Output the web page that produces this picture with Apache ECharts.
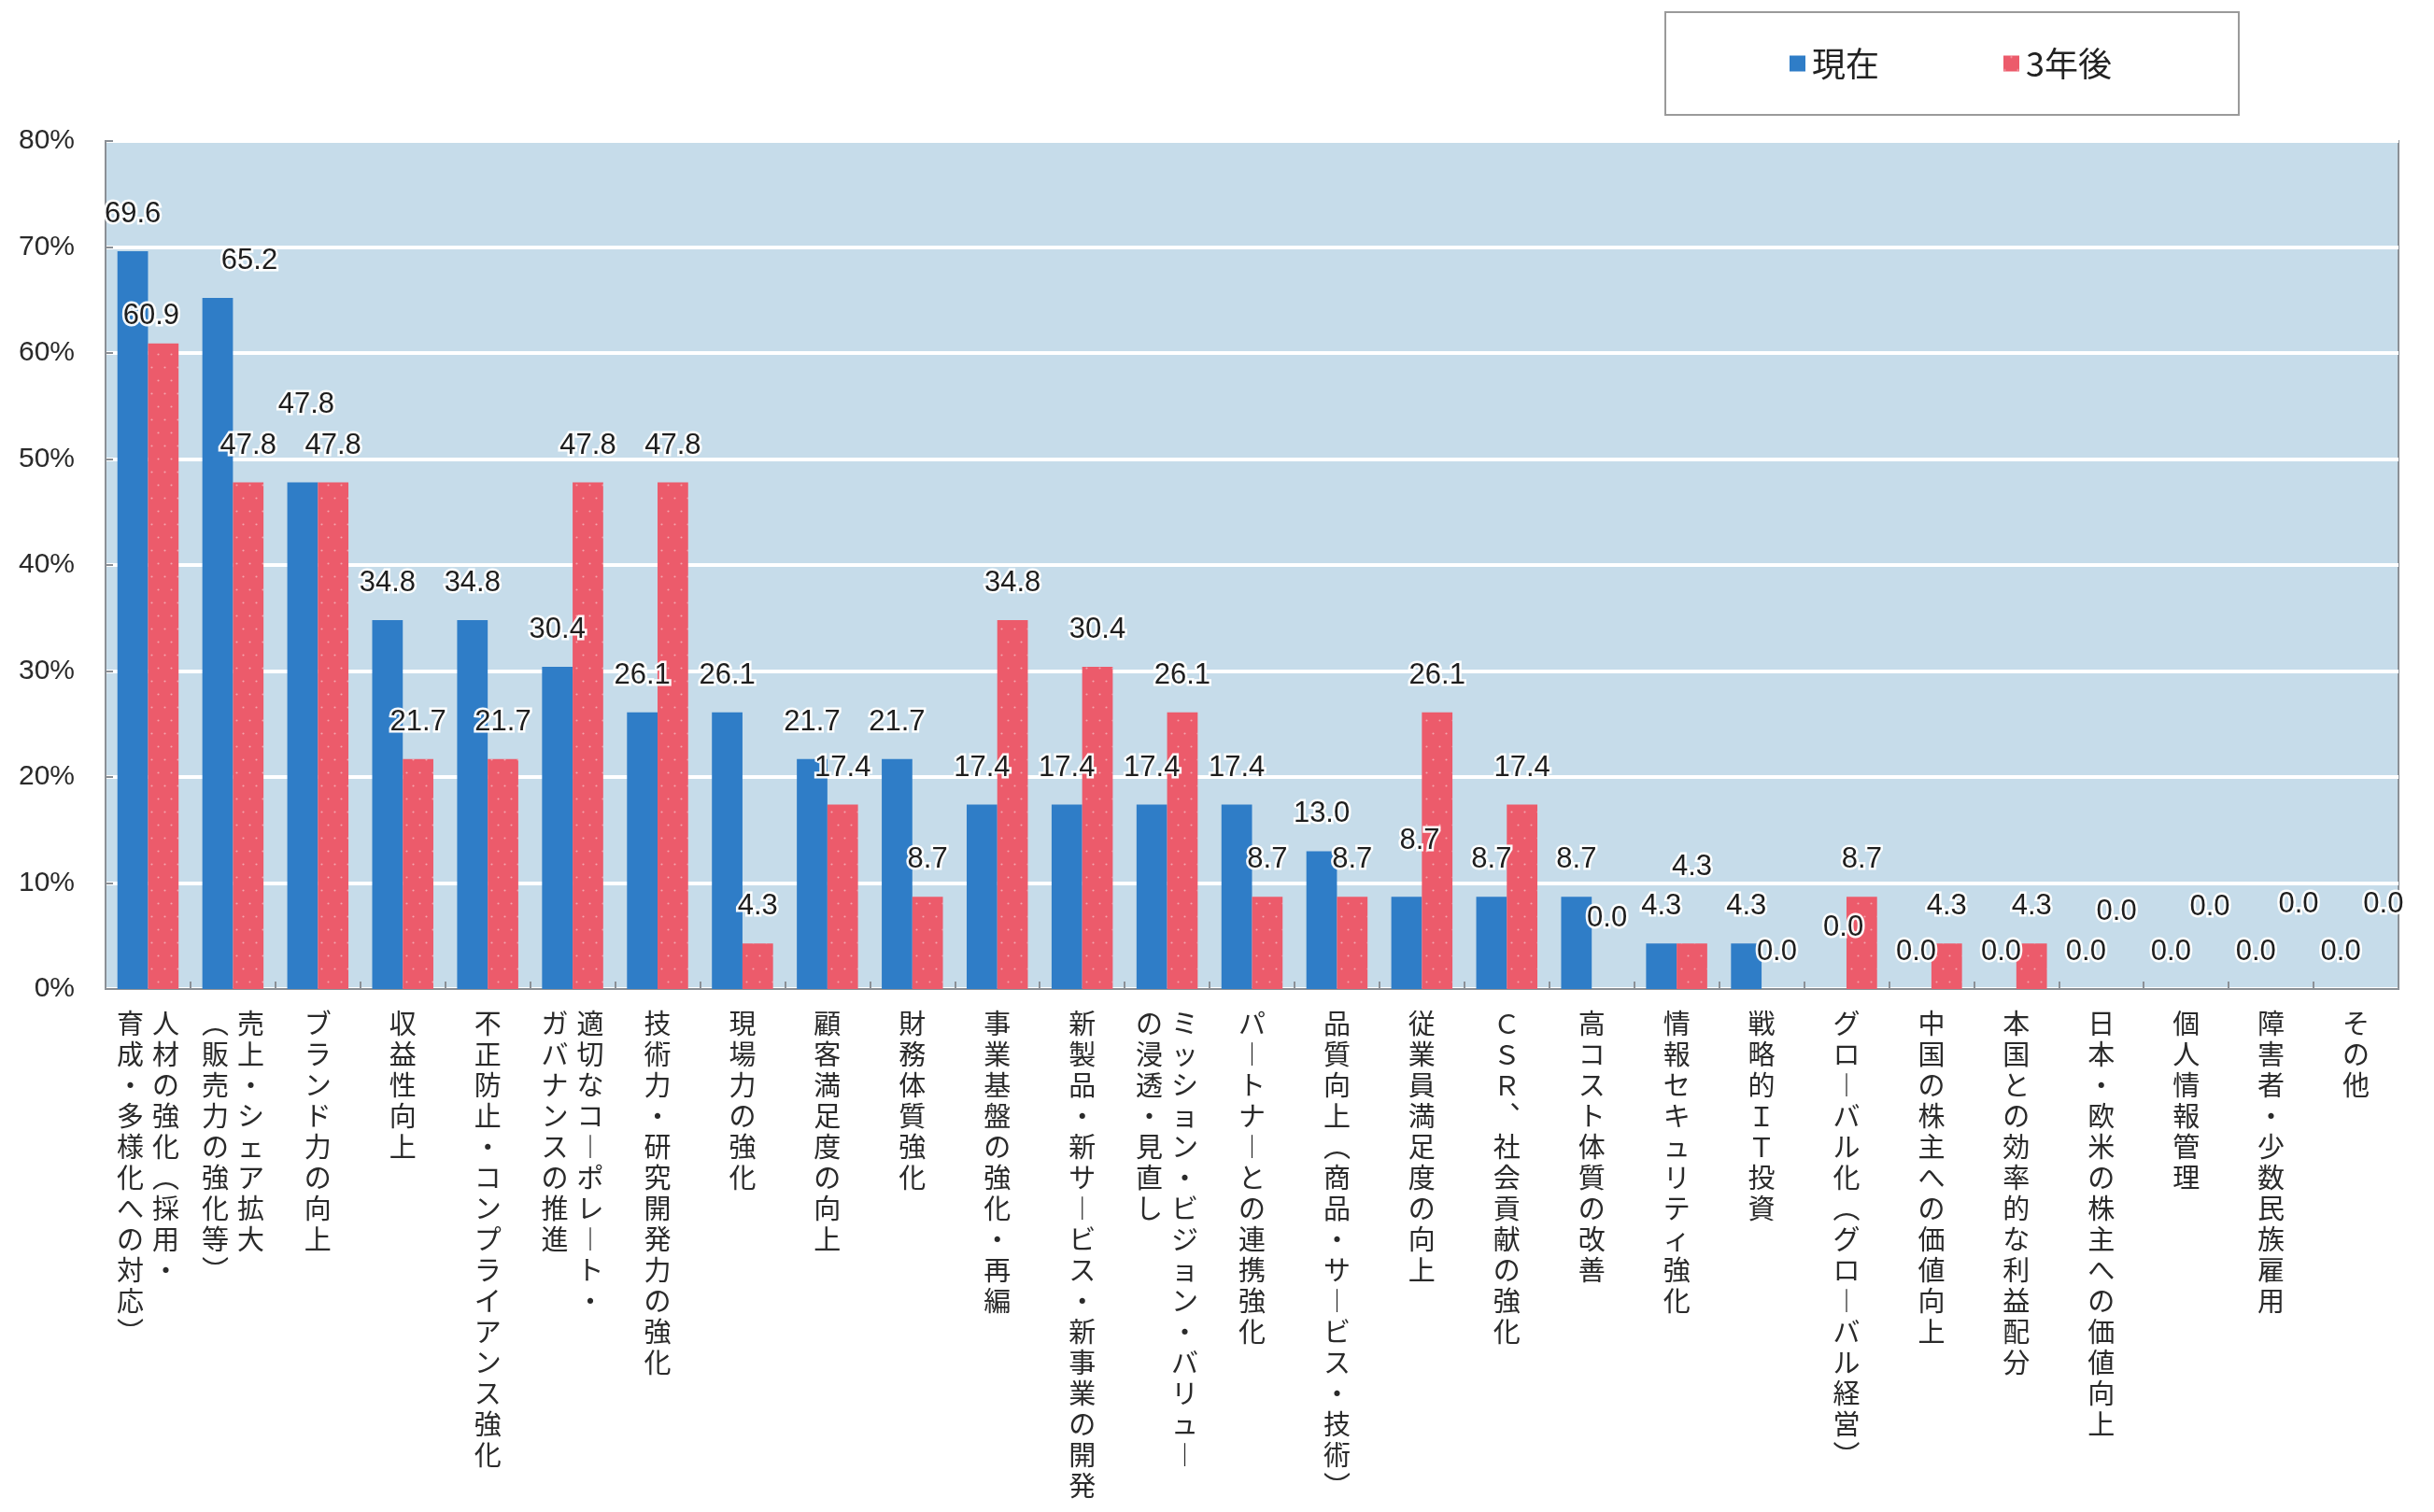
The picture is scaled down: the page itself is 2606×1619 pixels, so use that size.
<!DOCTYPE html>
<html lang="ja">
<head>
<meta charset="utf-8">
<title>経営課題（現在・3年後）</title>
<script src="https://cdn.jsdelivr.net/npm/echarts@6/dist/echarts.min.js"></script>
<style>
  html, body { margin: 0; padding: 0; background: #ffffff; }
  #chart { width: 2606px; height: 1619px; }
</style>
</head>
<body>
<div id="chart"></div>
<script>
// Categories: "\n" separates the vertical columns (first column is drawn rightmost)
const categories = [
  '人材の強化（採用・\n育成・多様化への対応）',
  '売上・シェア拡大\n（販売力の強化等）',
  'ブランド力の向上',
  '収益性向上',
  '不正防止・コンプライアンス強化',
  '適切なコーポレート・\nガバナンスの推進',
  '技術力・研究開発力の強化',
  '現場力の強化',
  '顧客満足度の向上',
  '財務体質強化',
  '事業基盤の強化・再編',
  '新製品・新サービス・新事業の開発',
  'ミッション・ビジョン・バリュー\nの浸透・見直し',
  'パートナーとの連携強化',
  '品質向上（商品・サービス・技術）',
  '従業員満足度の向上',
  'ＣＳＲ、社会貢献の強化',
  '高コスト体質の改善',
  '情報セキュリティ強化',
  '戦略的ＩＴ投資',
  'グローバル化（グローバル経営）',
  '中国の株主への価値向上',
  '本国との効率的な利益配分',
  '日本・欧米の株主への価値向上',
  '個人情報管理',
  '障害者・少数民族雇用',
  'その他'
];

const seriesNames = ['現在', '3年後'];

const currentValues = [69.6, 65.2, 47.8, 34.8, 34.8, 30.4, 26.1, 26.1, 21.7, 21.7,
                       17.4, 17.4, 17.4, 17.4, 13.0, 8.7, 8.7, 8.7, 4.3, 4.3,
                       0.0, 0.0, 0.0, 0.0, 0.0, 0.0, 0.0];
const futureValues  = [60.9, 47.8, 47.8, 21.7, 21.7, 47.8, 47.8, 4.3, 17.4, 8.7,
                       34.8, 30.4, 26.1, 8.7, 8.7, 26.1, 17.4, 0.0, 4.3, 0.0,
                       8.7, 4.3, 4.3, 0.0, 0.0, 0.0, 0.0];

const yTicks = [0, 10, 20, 30, 40, 50, 60, 70, 80];

// Label nudges (px) so that neighbouring value labels do not collide
const currentLabelNudge = { 1: [34, 0], 2: [4, -44], 15: [14, -20], 20: [13, -26] };
const futureLabelNudge  = { 0: [-13, 10], 17: [0, -36], 18: [0, -42], 23: [0, -43],
                            24: [9, -48], 25: [13, -51], 26: [13, -51] };

const BLUE = '#2f7dc7';
const RED = '#ec5b6b';
const DIGIT_FONT = '"Liberation Sans", Arial, sans-serif';
const JP_FONT = '"Noto Sans CJK JP", sans-serif';

// Glyphs substituted for vertical (tategaki) setting
const VERTICAL_FORMS = { 'ー': '︱', '（': '︵', '）': '︶', '、': '︑', '－': '︱' };

function verticalLabel(name) {
  const cols = name.split('\n').map(s => Array.from(s).map(ch => VERTICAL_FORMS[ch] || ch));
  const rows = Math.max(...cols.map(c => c.length));
  const ordered = cols.slice().reverse();   // first column on the right
  const lines = [];
  for (let r = 0; r < rows; r++) {
    lines.push(ordered.map(c => '{c|' + (c[r] !== undefined ? c[r] : '　') + '}').join(''));
  }
  return lines.join('\n');
}

function withNudges(values, nudges) {
  return values.map((v, i) => {
    const item = { value: v };
    if (nudges[i]) item.label = { offset: nudges[i] };
    return item;
  });
}

const valueLabel = {
  show: true,
  position: 'top',
  distance: 24,
  formatter: p => Number(p.value).toFixed(1),
  fontSize: 31,
  fontFamily: DIGIT_FONT,
  color: '#1e1e1e',
  textBorderColor: 'rgba(255,255,255,0.95)',
  textBorderWidth: 5
};

const chart = echarts.init(document.getElementById('chart'), null, { renderer: 'canvas' });

chart.setOption({
  animation: false,
  backgroundColor: '#ffffff',
  legend: {
    data: seriesNames,
    left: 1783,
    top: 13,
    padding: [37, 136, 37, 133],
    backgroundColor: '#ffffff',
    borderColor: '#9a9a9a',
    borderWidth: 2,
    icon: 'rect',
    itemWidth: 17,
    itemHeight: 17,
    itemGap: 133,
    textStyle: { fontSize: 36, color: '#222', fontFamily: JP_FONT, padding: [0, 0, 0, 2] }
  },
  grid: {
    left: 113,
    right: 38,
    top: 151,
    bottom: 560,
    show: true,
    backgroundColor: '#c6dcea',
    borderColor: '#8b9096',
    borderWidth: 2
  },
  xAxis: {
    type: 'category',
    data: categories,
    axisLine: { show: true, lineStyle: { color: '#8b9096', width: 2 } },
    axisTick: { show: true, inside: true, length: 8, lineStyle: { color: '#8b9096', width: 2 } },
    axisLabel: {
      interval: 0,
      margin: 20,
      verticalAlign: 'top',
      color: '#2a2a2a',
      formatter: verticalLabel,
      rich: {
        c: {
          width: 38,
          align: 'center',
          fontSize: 29,
          lineHeight: 33,
          fontFamily: JP_FONT,
          color: '#2a2a2a'
        }
      }
    },
    splitLine: { show: false }
  },
  yAxis: {
    type: 'value',
    min: yTicks[0],
    max: yTicks[yTicks.length - 1],
    interval: yTicks[1] - yTicks[0],
    axisLine: { show: true, lineStyle: { color: '#8b9096', width: 2 } },
    axisTick: { show: true, inside: true, length: 8, lineStyle: { color: '#8b9096', width: 2 } },
    axisLabel: {
      formatter: '{value}%',
      fontSize: 30,
      fontFamily: DIGIT_FONT,
      color: '#2a2a2a',
      margin: 33
    },
    splitLine: { show: true, lineStyle: { color: '#ffffff', width: 4 } }
  },
  series: [
    {
      name: seriesNames[0],
      type: 'bar',
      data: withNudges(currentValues, currentLabelNudge),
      barWidth: '36%',
      barGap: '0%',
      itemStyle: { color: BLUE },
      label: valueLabel
    },
    {
      name: seriesNames[1],
      type: 'bar',
      data: withNudges(futureValues, futureLabelNudge),
      barWidth: '36%',
      barGap: '0%',
      itemStyle: {
        color: RED,
        decal: {
          symbol: 'circle',
          symbolSize: 0.7,
          color: 'rgba(255,255,255,0.45)',
          dashArrayX: [[3, 11], [0, 7, 3, 4]],
          dashArrayY: [3, 11]
        }
      },
      label: valueLabel
    }
  ]
});
</script>
</body>
</html>
